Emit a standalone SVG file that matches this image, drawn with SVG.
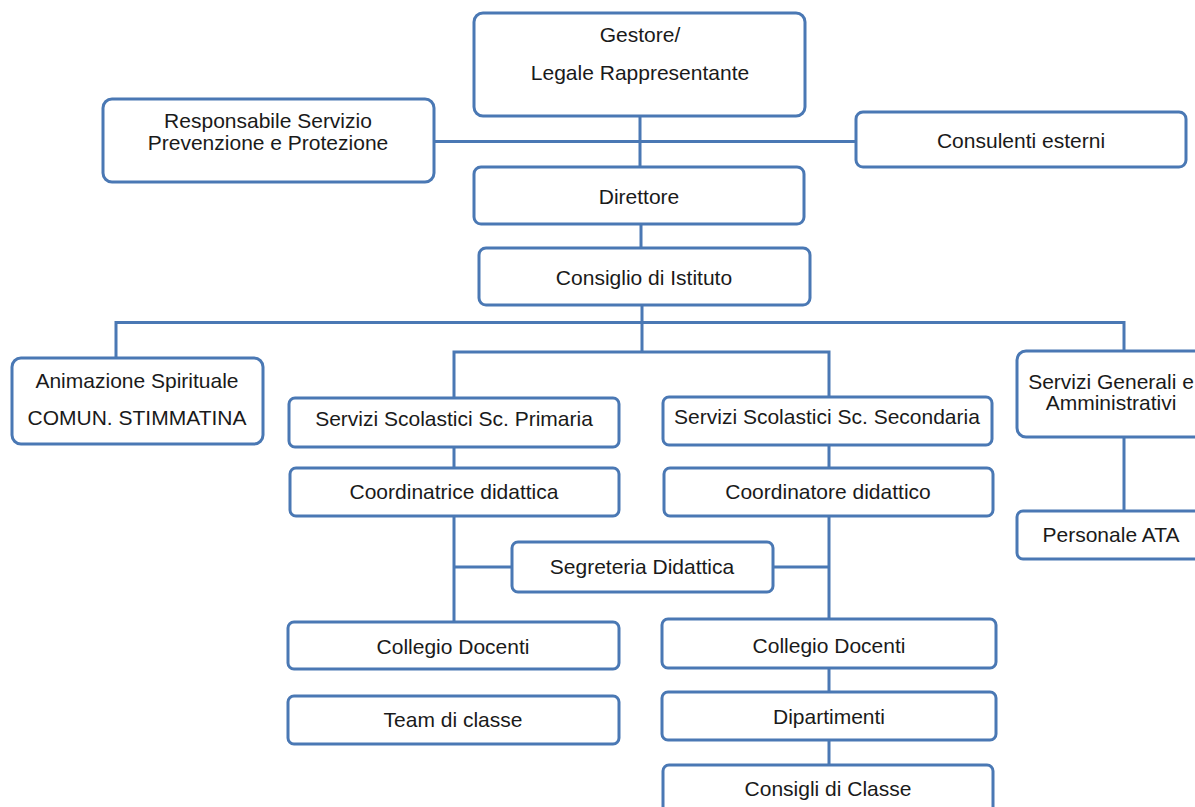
<svg xmlns="http://www.w3.org/2000/svg" width="1195" height="807" viewBox="0 0 1195 807">
<style>
.box{fill:#ffffff;stroke:#4a78b4;stroke-width:3}
.ln{fill:none;stroke:#4a78b4;stroke-width:3}
text{font-family:"Liberation Sans",Arial,sans-serif;font-size:21px;fill:#1a1a1a;text-anchor:middle}
</style>
<rect width="1195" height="807" fill="#ffffff"/>
<g id="connectors">
<path class="ln" d="M434 141.5H856M640 116V167M641 224V248"/>
<path class="ln" d="M642 305V352M116 358V322.5H1124V351M454 398V352H829V397"/>
<path class="ln" d="M454 447V468M829 445V468M454 516V622M829 516V619M454 567H512M773 567H829"/>
<path class="ln" d="M829 668V692M829 740V765M1124 437V511"/>
</g>
<g id="gestore"><rect class="box" x="474" y="13" width="331" height="103" rx="9"/><text x="640" y="42">Gestore/</text><text x="640" y="80">Legale Rappresentante</text></g>
<g id="rspp"><rect class="box" x="103" y="99" width="331" height="83" rx="9"/><text x="268" y="128">Responsabile Servizio</text><text x="268" y="150">Prevenzione e Protezione</text></g>
<g id="consulenti"><rect class="box" x="856" y="112" width="330" height="55" rx="7"/><text x="1021" y="148">Consulenti esterni</text></g>
<g id="direttore"><rect class="box" x="474" y="167" width="330" height="57" rx="7"/><text x="639" y="204">Direttore</text></g>
<g id="consiglio"><rect class="box" x="479" y="248" width="331" height="57" rx="7"/><text x="644" y="285">Consiglio di Istituto</text></g>
<g id="animazione"><rect class="box" x="12" y="358" width="251" height="86" rx="9"/><text x="137" y="388">Animazione Spirituale</text><text x="137" y="425">COMUN. STIMMATINA</text></g>
<g id="primaria"><rect class="box" x="289" y="398" width="330" height="49" rx="6"/><text x="454" y="426">Servizi Scolastici Sc. Primaria</text></g>
<g id="secondaria"><rect class="box" x="663" y="397" width="329" height="48" rx="6"/><text x="827" y="424">Servizi Scolastici Sc. Secondaria</text></g>
<g id="servizi-generali"><rect class="box" x="1017" y="351" width="200" height="86" rx="9"/><text x="1111" y="389">Servizi Generali e</text><text x="1111" y="410">Amministrativi</text></g>
<g id="coordinatrice"><rect class="box" x="290" y="468" width="329" height="48" rx="6"/><text x="454" y="499">Coordinatrice didattica</text></g>
<g id="coordinatore"><rect class="box" x="664" y="468" width="329" height="48" rx="6"/><text x="828" y="499">Coordinatore didattico</text></g>
<g id="personale-ata"><rect class="box" x="1017" y="511" width="200" height="48" rx="6"/><text x="1111" y="542">Personale ATA</text></g>
<g id="segreteria"><rect class="box" x="512" y="542" width="261" height="50" rx="6"/><text x="642" y="574">Segreteria Didattica</text></g>
<g id="collegio-primaria"><rect class="box" x="288" y="622" width="331" height="47" rx="6"/><text x="453" y="654">Collegio Docenti</text></g>
<g id="team-classe"><rect class="box" x="288" y="696" width="331" height="48" rx="6"/><text x="453" y="727">Team di classe</text></g>
<g id="collegio-secondaria"><rect class="box" x="662" y="619" width="334" height="49" rx="6"/><text x="829" y="653">Collegio Docenti</text></g>
<g id="dipartimenti"><rect class="box" x="662" y="692" width="334" height="48" rx="6"/><text x="829" y="724">Dipartimenti</text></g>
<g id="consigli-classe"><rect class="box" x="663" y="765" width="330" height="55" rx="6"/><text x="828" y="796">Consigli di Classe</text></g>
</svg>
